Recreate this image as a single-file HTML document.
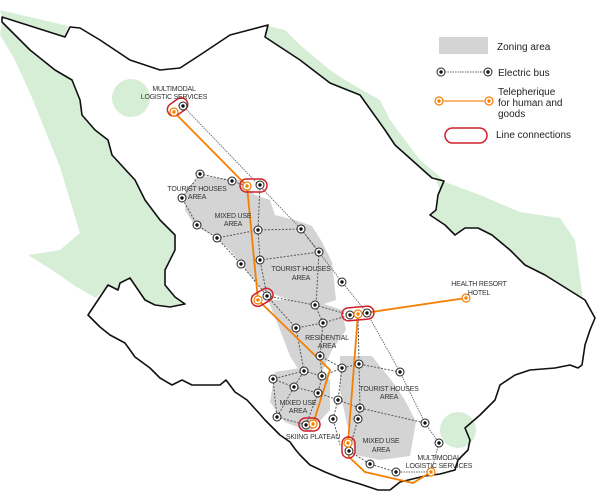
<!DOCTYPE html>
<html><head><meta charset="utf-8"><style>
body{margin:0;background:#fff}
svg{display:block}
text{font-family:"Liberation Sans",sans-serif}
.l{font-size:7px;fill:#333;text-anchor:middle;letter-spacing:-0.2px}
.g{font-size:10px;fill:#222}
.b{stroke:#555;stroke-width:1;stroke-dasharray:2 1.5;fill:none}
.k{stroke:#666;stroke-width:0.9;stroke-dasharray:1.5 1;fill:none}
.o{stroke:#f57f00;stroke-width:1.8;fill:none}
</style></head><body>
<svg width="600" height="499" viewBox="0 0 600 499">
<!-- green -->
<g fill="#d6eed6">
<path d="M0,10 L68,26 L65,37 L2,17Z"/>
<path d="M2,22 L30,50 L55,70 L72,80 L80,100 L82,115 L95,130 L108,140 L112,155 L135,180 L145,200 L160,220 L175,235 L175,250 L165,270 L165,285 L175,297 L185,304 L170,307 L155,305 L145,300 L130,278 L120,283 L118,290 L108,285 L96,298 L75,286 L55,272 L28,255 L60,250 L80,233 L70,200 L60,167 L45,130 L33,100 L15,60 L0,35Z"/>
<path d="M268,26 L285,30 L300,45 L330,70 L345,80 L380,100 L390,120 L420,160 L438,175 L445,182 L480,195 L520,212 L560,218 L575,240 L583,300 L585,300 L545,275 L525,265 L510,250 L492,236 L478,228 L465,228 L455,235 L445,225 L432,215 L437,210 L440,190 L434,176 L432,178 L395,145 L385,130 L360,96 L330,84 L300,60 L275,45 L265,37Z"/>
<circle cx="131" cy="98" r="19"/>
<circle cx="458" cy="430" r="18"/>
</g>
<!-- outline -->
<path fill="none" stroke="#111" stroke-width="1.6" stroke-linejoin="round" d="M2,17 L65,37 L70,27 L80,28 L100,40 L130,60 L160,70 L180,68 L200,55 L230,35 L268,25 L265,37 L300,60 L330,83 L360,95 L385,130 L395,145 L432,178 L444,181 L438,195 L436,210 L430,215 L445,225 L455,235 L465,228 L478,228 L492,235 L510,250 L525,265 L545,275 L585,300 L595,318 L590,330 L585,345 L582,365 L578,368 L570,365 L555,368 L530,370 L515,375 L500,385 L495,400 L480,415 L465,428 L470,440 L468,450 L458,460 L455,470 L440,474 L425,476 L400,482 L390,490 L378,490 L360,484 L340,478 L325,472 L310,465 L300,455 L295,449 L290,442 L280,435 L265,420 L258,412 L247,400 L235,392 L226,380 L220,385 L200,385 L192,385 L182,380 L172,385 L160,378 L150,368 L135,357 L130,350 L125,343 L110,335 L100,327 L88,315 L108,285 L118,290 L120,283 L130,278 L145,300 L155,305 L170,307 L185,304 L175,297 L165,285 L165,270 L175,250 L175,235 L160,220 L145,200 L135,180 L112,155 L108,140 L95,130 L82,115 L80,100 L72,80 L55,70 L30,50 L2,22Z"/>
<!-- zoning -->
<g fill="#d4d4d4">
<path d="M185,190 L200,176 L240,180 L255,195 L270,200 L275,215 L295,220 L312,226 L322,242 L332,262 L336,300 L312,308 L290,300 L262,290 L246,270 L230,250 L214,236 L195,226 L185,210Z"/>
<path d="M268,300 L312,300 L342,310 L346,330 L332,350 L322,372 L300,372 L290,356 L280,330Z"/>
<path d="M275,372 L312,366 L330,380 L330,410 L310,432 L285,422 L270,402Z"/>
<path d="M340,356 L372,356 L395,385 L406,402 L416,422 L410,456 L380,460 L356,455 L346,420 L340,390Z"/>
</g>
<!-- long gray lines -->
<path class="k" d="M183,106 L301,229 L342,282 L367,313 L400,372 L425,423 L439,443 L431,472"/>
<path class="k" d="M396,472 L431,472"/>
<!-- bus edges -->
<path class="b" d="M200,174 L232,181 L247,186 M200,174 L182,198 L197,225 L217,238 L258,230 L301,229 M260,185 L258,230 L260,260 L267,296 M301,229 L319,252 L260,260 M217,238 L241,264 L267,296 M319,252 L316,305 M267,296 L315,305 L350,315 M267,296 L296,328 L323,323 L350,315 M315,305 L323,323 M296,328 L304,371 M323,323 L320,356 L342,368 L359,364 L400,372 M358,314 L359,364 M304,371 L273,379 L294,387 L304,371 L322,376 L342,368 M294,387 L318,393 L338,400 L360,408 L425,423 M273,379 L277,417 L294,387 M318,393 L306,425 M338,400 L333,419 L340,445 M360,408 L358,419 L349,451 L370,464 L396,472 M342,368 L338,400 M322,376 L318,393 M359,364 L360,408 M320,356 L322,376 M277,417 L306,425"/>
<!-- orange -->
<path class="o" d="M174,112 L247,186 L258,300 L330,370 L313,424"/>
<path class="o" d="M358,314 L348,443 L349,457 L365,472 L413,483 L431,472"/>
<path class="o" d="M358,314 L466,298"/>
<!-- red connections -->
<g fill="none" stroke="#d0202a" stroke-width="1.5">
<rect x="168" y="100" width="22" height="13" rx="6.5" transform="rotate(-35 179 109)"/>
<rect x="240" y="179" width="27" height="13" rx="6.5"/>
<rect x="251" y="291" width="23" height="13" rx="6.5" transform="rotate(-30 262 298)"/>
<rect x="342" y="307" width="32" height="13" rx="6.5" transform="rotate(-5 358 314)"/>
<rect x="299" y="418" width="21" height="13" rx="6.5"/>
<rect x="342" y="437" width="13" height="21" rx="6.5"/>
<rect x="445" y="128" width="42" height="15" rx="7.5"/>
</g>
<!-- nodes -->
<g fill="#fff" stroke="#222" stroke-width="1">
<circle cx="183" cy="106" r="4"/><circle cx="260" cy="185" r="4"/><circle cx="200" cy="174" r="4"/><circle cx="232" cy="181" r="4"/><circle cx="182" cy="198" r="4"/><circle cx="197" cy="225" r="4"/><circle cx="217" cy="238" r="4"/><circle cx="258" cy="230" r="4"/><circle cx="301" cy="229" r="4"/><circle cx="260" cy="260" r="4"/><circle cx="319" cy="252" r="4"/><circle cx="241" cy="264" r="4"/><circle cx="342" cy="282" r="4"/><circle cx="267" cy="296" r="4"/><circle cx="315" cy="305" r="4"/><circle cx="296" cy="328" r="4"/><circle cx="323" cy="323" r="4"/><circle cx="350" cy="315" r="4"/><circle cx="367" cy="313" r="4"/><circle cx="320" cy="356" r="4"/><circle cx="342" cy="368" r="4"/><circle cx="359" cy="364" r="4"/><circle cx="400" cy="372" r="4"/><circle cx="304" cy="371" r="4"/><circle cx="322" cy="376" r="4"/><circle cx="273" cy="379" r="4"/><circle cx="294" cy="387" r="4"/><circle cx="318" cy="393" r="4"/><circle cx="338" cy="400" r="4"/><circle cx="360" cy="408" r="4"/><circle cx="425" cy="423" r="4"/><circle cx="277" cy="417" r="4"/><circle cx="333" cy="419" r="4"/><circle cx="358" cy="419" r="4"/><circle cx="306" cy="425" r="4"/><circle cx="349" cy="451" r="4"/><circle cx="370" cy="464" r="4"/><circle cx="396" cy="472" r="4"/><circle cx="439" cy="443" r="4"/>
<circle cx="441" cy="72" r="4"/><circle cx="488" cy="72" r="4"/>
</g>
<g fill="#111">
<circle cx="183" cy="106" r="1.7"/><circle cx="260" cy="185" r="1.7"/><circle cx="200" cy="174" r="1.7"/><circle cx="232" cy="181" r="1.7"/><circle cx="182" cy="198" r="1.7"/><circle cx="197" cy="225" r="1.7"/><circle cx="217" cy="238" r="1.7"/><circle cx="258" cy="230" r="1.7"/><circle cx="301" cy="229" r="1.7"/><circle cx="260" cy="260" r="1.7"/><circle cx="319" cy="252" r="1.7"/><circle cx="241" cy="264" r="1.7"/><circle cx="342" cy="282" r="1.7"/><circle cx="267" cy="296" r="1.7"/><circle cx="315" cy="305" r="1.7"/><circle cx="296" cy="328" r="1.7"/><circle cx="323" cy="323" r="1.7"/><circle cx="350" cy="315" r="1.7"/><circle cx="367" cy="313" r="1.7"/><circle cx="320" cy="356" r="1.7"/><circle cx="342" cy="368" r="1.7"/><circle cx="359" cy="364" r="1.7"/><circle cx="400" cy="372" r="1.7"/><circle cx="304" cy="371" r="1.7"/><circle cx="322" cy="376" r="1.7"/><circle cx="273" cy="379" r="1.7"/><circle cx="294" cy="387" r="1.7"/><circle cx="318" cy="393" r="1.7"/><circle cx="338" cy="400" r="1.7"/><circle cx="360" cy="408" r="1.7"/><circle cx="425" cy="423" r="1.7"/><circle cx="277" cy="417" r="1.7"/><circle cx="333" cy="419" r="1.7"/><circle cx="358" cy="419" r="1.7"/><circle cx="306" cy="425" r="1.7"/><circle cx="349" cy="451" r="1.7"/><circle cx="370" cy="464" r="1.7"/><circle cx="396" cy="472" r="1.7"/><circle cx="439" cy="443" r="1.7"/>
<circle cx="441" cy="72" r="1.7"/><circle cx="488" cy="72" r="1.7"/>
</g>
<g fill="#fff" stroke="#f57f00" stroke-width="1.2">
<circle cx="174" cy="112" r="4"/><circle cx="247" cy="186" r="4"/><circle cx="258" cy="300" r="4"/><circle cx="358" cy="314" r="4"/><circle cx="466" cy="298" r="4"/><circle cx="313" cy="424" r="4"/><circle cx="348" cy="443" r="4"/><circle cx="431" cy="472" r="4"/><circle cx="439" cy="101" r="4"/><circle cx="489" cy="101" r="4"/>
</g>
<g fill="#f57f00">
<circle cx="174" cy="112" r="1.7"/><circle cx="247" cy="186" r="1.7"/><circle cx="258" cy="300" r="1.7"/><circle cx="358" cy="314" r="1.7"/><circle cx="466" cy="298" r="1.7"/><circle cx="313" cy="424" r="1.7"/><circle cx="348" cy="443" r="1.7"/><circle cx="431" cy="472" r="1.7"/><circle cx="439" cy="101" r="1.7"/><circle cx="489" cy="101" r="1.7"/>
</g>
<!-- legend -->
<rect x="439" y="37" width="49" height="17" fill="#d4d4d4"/>
<path class="k" d="M445,72 L484,72"/>
<path d="M443,101 L485,101" stroke="#f5a24a" stroke-width="1.5"/>
<text class="g" x="497" y="50">Zoning area</text>
<text class="g" x="498" y="76">Electric bus</text>
<text class="g" x="498" y="95">Telepherique</text>
<text class="g" x="498" y="106">for human and</text>
<text class="g" x="498" y="117">goods</text>
<text class="g" x="496" y="138">Line connections</text>
<!-- labels -->
<text class="l" x="174" y="91">MULTIMODAL</text><text class="l" x="174" y="99">LOGISTIC SERVICES</text>
<text class="l" x="197" y="191">TOURIST HOUSES</text><text class="l" x="197" y="199">AREA</text>
<text class="l" x="233" y="218">MIXED USE</text><text class="l" x="233" y="226">AREA</text>
<text class="l" x="301" y="271">TOURIST HOUSES</text><text class="l" x="301" y="280">AREA</text>
<text class="l" x="479" y="286">HEALTH RESORT</text><text class="l" x="479" y="295">HOTEL</text>
<text class="l" x="327" y="340">RESIDENTIAL</text><text class="l" x="327" y="348">AREA</text>
<text class="l" x="389" y="391">TOURIST HOUSES</text><text class="l" x="389" y="399">AREA</text>
<text class="l" x="298" y="405">MIXED USE</text><text class="l" x="298" y="413">AREA</text>
<text class="l" x="313" y="439">SKIING PLATEAU</text>
<text class="l" x="381" y="443">MIXED USE</text><text class="l" x="381" y="452">AREA</text>
<text class="l" x="439" y="460">MULTIMODAL</text><text class="l" x="439" y="468">LOGISTIC SERVICES</text>
</svg>
</body></html>
